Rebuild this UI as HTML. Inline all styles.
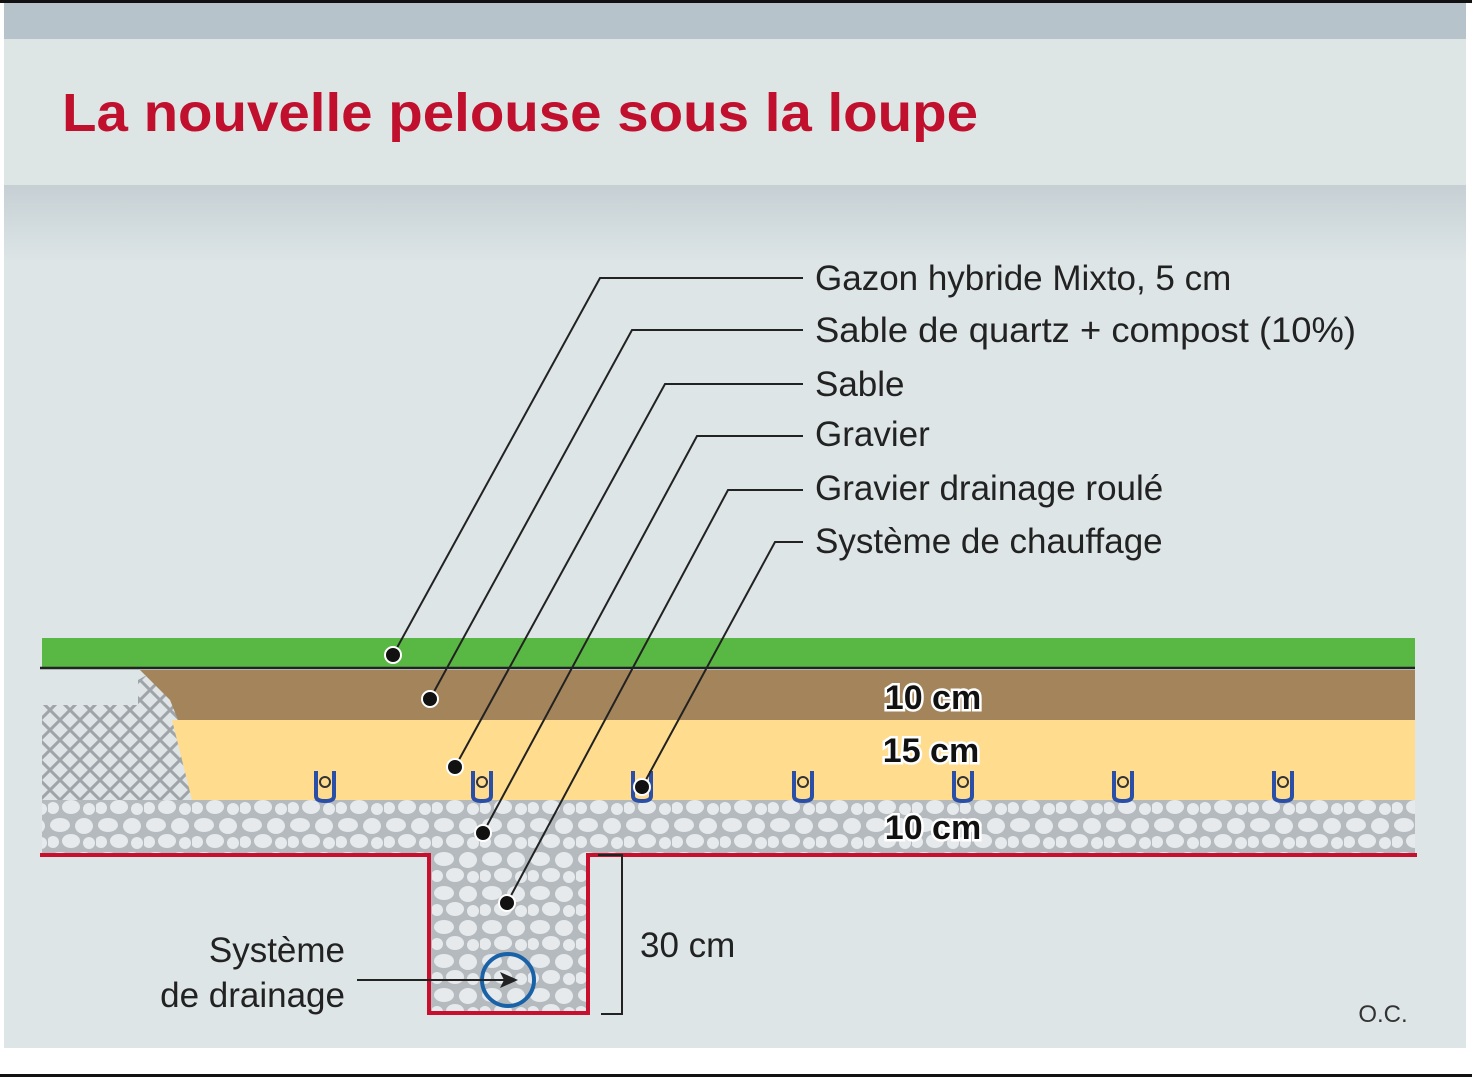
<!DOCTYPE html>
<html><head><meta charset="utf-8"><style>
html,body{margin:0;padding:0;background:#fff;width:1472px;height:1080px;overflow:hidden}
svg{display:block}
text{font-family:"Liberation Sans",sans-serif}
</style></head><body>
<svg width="1472" height="1080" viewBox="0 0 1472 1080" xmlns="http://www.w3.org/2000/svg">
<defs>
<linearGradient id="g1" x1="0" y1="0" x2="0" y2="1">
<stop offset="0" stop-color="#c6d0d4"/><stop offset="1" stop-color="#dce4e6"/></linearGradient>
<pattern id="hatch" width="20" height="20" patternUnits="userSpaceOnUse">
<rect width="20" height="20" fill="#dfe5e7"/>
<path d="M0 0L20 20M20 0L0 20" stroke="#9ea4a8" stroke-width="3"/></pattern>
<pattern id="stone" width="48" height="34" patternUnits="userSpaceOnUse">
<rect width="48" height="34" fill="#b4babe"/>
<ellipse cx="12" cy="9" rx="10" ry="7" fill="#e6eaec"/>
<ellipse cx="36" cy="10" rx="9" ry="8" fill="#e6eaec"/>
<ellipse cx="5" cy="26" rx="6" ry="6" fill="#e6eaec"/>
<ellipse cx="23" cy="25" rx="9" ry="7" fill="#e6eaec"/>
<ellipse cx="41" cy="27" rx="6" ry="6" fill="#e6eaec"/>
</pattern>
</defs>
<rect width="1472" height="1080" fill="#fff"/>
<rect x="0" y="0" width="1472" height="3" fill="#111"/>
<rect x="4" y="3" width="1462" height="36" fill="#b6c3cb"/>
<rect x="4" y="39" width="1462" height="146" fill="#dee6e5"/>
<rect x="4" y="185" width="1462" height="75" fill="url(#g1)"/>
<rect x="4" y="260" width="1462" height="788" fill="#dde5e7"/>
<rect x="0" y="1074" width="1472" height="3" fill="#111"/>
<text x="62" y="131" font-size="54" font-weight="bold" fill="#c0102e" textLength="916" lengthAdjust="spacingAndGlyphs">La nouvelle pelouse sous la loupe</text>

<rect x="42" y="638" width="1373" height="30" fill="#58b843"/>
<path d="M42 705 H138 V680 L145 676 H165 L1415 676 V800 H42Z" fill="url(#hatch)"/>
<path d="M140 670 H1415 V720 H178 L170 700 Z" fill="#a4845a"/>
<path d="M172 720 H1415 V800 H192 Z" fill="#ffdc8e"/>
<rect x="42" y="800" width="1373" height="55" fill="url(#stone)"/>
<rect x="430" y="855" width="158" height="158" fill="url(#stone)"/>
<line x1="40" y1="668" x2="1415" y2="668" stroke="#222" stroke-width="2.5"/>
<path d="M40 855 H429 V1013 H588 V855 H1417" fill="none" stroke="#c8102e" stroke-width="4"/>
<path d="M598 855 H622 V1014 H601" fill="none" stroke="#222" stroke-width="2"/>

<g fill="none" stroke="#2a4fa8" stroke-width="4">
<path d="M316 771 V796 Q316 801 325 801 Q334 801 334 796 V771"/>
<path d="M473 771 V796 Q473 801 482 801 Q491 801 491 796 V771"/>
<path d="M633 771 V796 Q633 801 642 801 Q651 801 651 796 V771"/>
<path d="M794 771 V796 Q794 801 803 801 Q812 801 812 796 V771"/>
<path d="M954 771 V796 Q954 801 963 801 Q972 801 972 796 V771"/>
<path d="M1114 771 V796 Q1114 801 1123 801 Q1132 801 1132 796 V771"/>
<path d="M1274 771 V796 Q1274 801 1283 801 Q1292 801 1292 796 V771"/>
</g>
<g fill="none" stroke="#333" stroke-width="2">
<circle cx="325" cy="782" r="5"/><circle cx="482" cy="782" r="5"/><circle cx="803" cy="782" r="5"/><circle cx="963" cy="782" r="5"/><circle cx="1123" cy="782" r="5"/><circle cx="1283" cy="782" r="5"/>
</g>

<circle cx="508" cy="980" r="26" fill="none" stroke="#1a62a8" stroke-width="4"/>
<line x1="357" y1="980" x2="505" y2="980" stroke="#222" stroke-width="2"/>
<path d="M518 980 L500 972 L504 980 L500 988Z" fill="#222"/>

<g stroke="#222" stroke-width="2" fill="none">
<path d="M803 278 H600 L393 655"/>
<path d="M803 330 H632 L430 699"/>
<path d="M803 384 H665 L455 767"/>
<path d="M803 436 H697 L483 833"/>
<path d="M803 490 H728 L507 903"/>
<path d="M803 542 H775 L642 787"/>
</g>
<g fill="#111" stroke="#fff" stroke-width="2">
<circle cx="393" cy="655" r="8"/><circle cx="430" cy="699" r="8"/><circle cx="455" cy="767" r="8"/>
<circle cx="483" cy="833" r="8"/><circle cx="507" cy="903" r="8"/><circle cx="642" cy="787" r="8"/>
</g>

<g font-size="35" fill="#222">
<text x="815" y="290">Gazon hybride Mixto, 5 cm</text>
<text x="815" y="342" textLength="541" lengthAdjust="spacingAndGlyphs">Sable de quartz + compost (10%)</text>
<text x="815" y="396">Sable</text>
<text x="815" y="446">Gravier</text>
<text x="815" y="500">Gravier drainage roulé</text>
<text x="815" y="553">Système de chauffage</text>
<text x="345" y="962" text-anchor="end">Système</text>
<text x="345" y="1007" text-anchor="end">de drainage</text>
<text x="640" y="957">30 cm</text>
</g>
<g font-size="34" font-weight="bold" fill="#111" stroke="#fff" stroke-width="5" paint-order="stroke" text-anchor="middle">
<text x="933" y="709">10 cm</text>
<text x="931" y="762">15 cm</text>
<text x="933" y="839">10 cm</text>
</g>
<text x="1383" y="1022" font-size="24" fill="#333" text-anchor="middle">O.C.</text>
</svg>
</body></html>
